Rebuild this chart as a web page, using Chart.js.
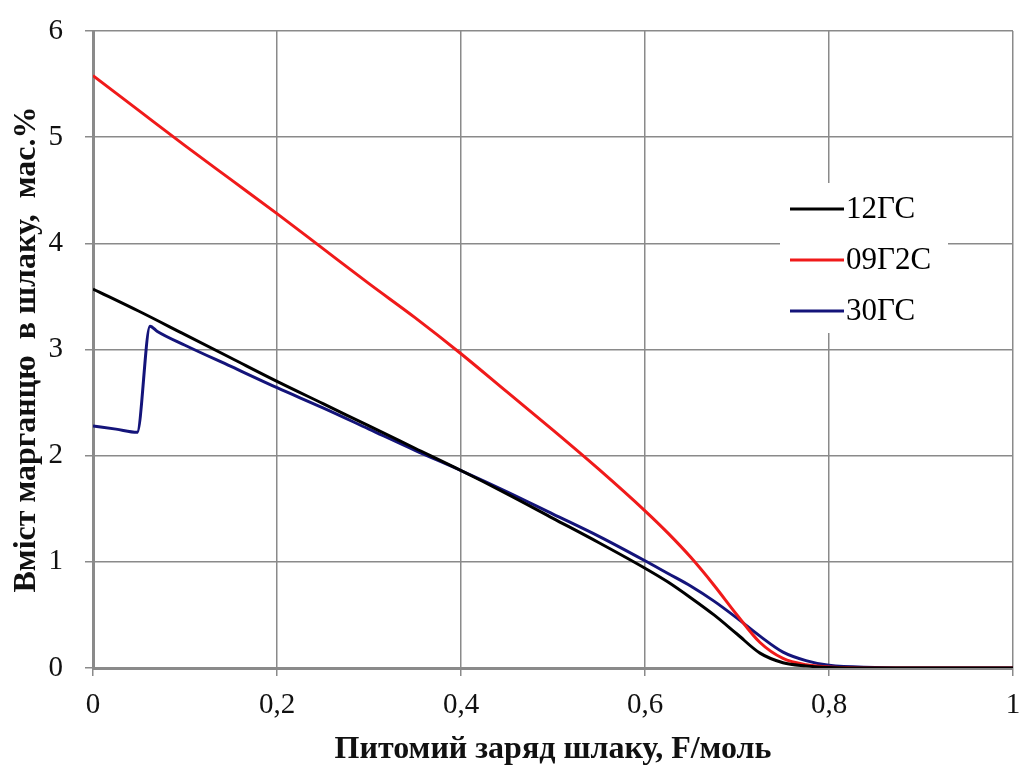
<!DOCTYPE html>
<html>
<head>
<meta charset="utf-8">
<script src="https://cdn.jsdelivr.net/npm/chart.js@4.4.1/dist/chart.umd.min.js"></script>
<style>
  html, body { margin: 0; padding: 0; background: #fff; }
  #wrap { width: 1020px; height: 769px; }
</style>
</head>
<body>
<div id="wrap"><canvas id="mnChart" width="1020" height="769"></canvas></div>
<script>
// specific slag charge, F/mol
const xMain = [0, 0.05, 0.1, 0.15, 0.2, 0.25, 0.3, 0.35, 0.4, 0.45, 0.5, 0.55, 0.6, 0.625,
  0.65, 0.675, 0.7, 0.725, 0.75, 0.775, 0.8, 0.85, 0.9, 0.95, 1];
const mn12GS = [3.57, 3.36, 3.14, 2.92, 2.70, 2.49, 2.28, 2.07, 1.86, 1.64, 1.41, 1.18, 0.94, 0.81,
  0.66, 0.50, 0.32, 0.14, 0.05, 0.02, 0.005, 0, 0, 0, 0];
const mn09G2S = [5.58, 5.25, 4.92, 4.60, 4.28, 3.95, 3.62, 3.30, 2.96, 2.60, 2.24, 1.87, 1.48, 1.27,
  1.04, 0.78, 0.50, 0.24, 0.09, 0.03, 0.01, 0, 0, 0, 0];

const x30GS = [0, 0.025, 0.048, 0.062, 0.07, 0.1, 0.15, 0.2, 0.25, 0.3, 0.35, 0.4, 0.45, 0.5, 0.55,
  0.6, 0.625, 0.65, 0.675, 0.7, 0.725, 0.75, 0.775, 0.8, 0.85, 0.9, 0.95, 1];
const mn30GS = [2.28, 2.25, 2.22, 3.22, 3.17, 3.04, 2.84, 2.64, 2.45, 2.25, 2.05, 1.86, 1.66, 1.45, 1.24,
  1.01, 0.89, 0.77, 0.63, 0.47, 0.30, 0.15, 0.07, 0.025, 0.005, 0, 0, 0];

const seriesNames = ['12ГС', '09Г2С', '30ГС'];
const seriesColors = ['#000000', '#f01a1a', '#14147a'];

const yTicks = [0, 1, 2, 3, 4, 5, 6];
const xTicks = [0, 0.2, 0.4, 0.6, 0.8, 1];

function toPoints(xs, ys) {
  return xs.map((x, i) => ({x: x, y: ys[i]}));
}

const serif = '"Liberation Serif", "Times New Roman", serif';
const gridGray = '#8a8a8a';

// legend drawn as a white box inside the plot, like the original
const boxLegend = {
  id: 'boxLegend',
  beforeDatasetsDraw(chart) {
    const ctx = chart.ctx;
    ctx.save();
    ctx.fillStyle = '#ffffff';
    ctx.fillRect(780, 183, 168, 150);
    ctx.font = '31px ' + serif;
    ctx.textBaseline = 'middle';
    chart.data.datasets.forEach((ds, i) => {
      const y = 209 + i * 51;
      ctx.strokeStyle = ds.borderColor;
      ctx.lineWidth = 3;
      ctx.beginPath();
      ctx.moveTo(790, y);
      ctx.lineTo(844, y);
      ctx.stroke();
      ctx.fillStyle = '#000';
      ctx.fillText(ds.label, 846, y + 1);
    });
    ctx.restore();
  }
};

new Chart(document.getElementById('mnChart'), {
  type: 'line',
  data: {
    datasets: [
      {label: seriesNames[0], data: toPoints(xMain, mn12GS), borderColor: seriesColors[0]},
      {label: seriesNames[1], data: toPoints(xMain, mn09G2S), borderColor: seriesColors[1]},
      {label: seriesNames[2], data: toPoints(x30GS, mn30GS), borderColor: seriesColors[2]}
    ]
  },
  options: {
    responsive: false,
    animation: false,
    layout: {padding: {top: 31, right: 7, left: 0, bottom: 0}},
    elements: {
      point: {radius: 0},
      line: {borderWidth: 3, cubicInterpolationMode: 'monotone'}
    },
    plugins: {
      legend: {display: false},
      tooltip: {enabled: false}
    },
    scales: {
      x: {
        type: 'linear',
        min: 0, max: 1,
        afterFit: s => { s.height = 101; s.paddingLeft = 0; s.paddingRight = 0; },
        afterBuildTicks: s => { s.ticks = xTicks.map(v => ({value: v})); },
        grid: {color: gridGray, lineWidth: 1.5, tickLength: 8, tickColor: gridGray},
        border: {color: gridGray, width: 3},
        ticks: {
          color: '#111',
          font: {family: serif, size: 29},
          padding: 12,
          maxRotation: 0,
          callback: v => (v === 0 || v === 1) ? String(v) : v.toFixed(1).replace('.', ',')
        },
        title: {
          display: true,
          text: 'Питомий заряд шлаку, F/моль',
          color: '#111',
          font: {family: serif, size: 32, weight: 'bold'},
          padding: {top: 0, bottom: 0}
        }
      },
      y: {
        min: 0, max: 6,
        afterFit: s => { s.width = 93; s.paddingTop = 0; s.paddingBottom = 0; },
        afterBuildTicks: s => { s.ticks = yTicks.map(v => ({value: v})); },
        grid: {color: gridGray, lineWidth: 1.5, tickLength: 8, tickColor: gridGray},
        border: {color: gridGray, width: 3},
        ticks: {
          color: '#111',
          font: {family: serif, size: 29},
          padding: 22
        },
        title: {
          display: true,
          text: 'Вміст марганцю  в шлаку,  мас.%',
          color: '#111',
          font: {family: serif, size: 32, weight: 'bold'},
          padding: {top: 8, bottom: 0}
        }
      }
    }
  },
  plugins: [boxLegend]
});
</script>
</body>
</html>
